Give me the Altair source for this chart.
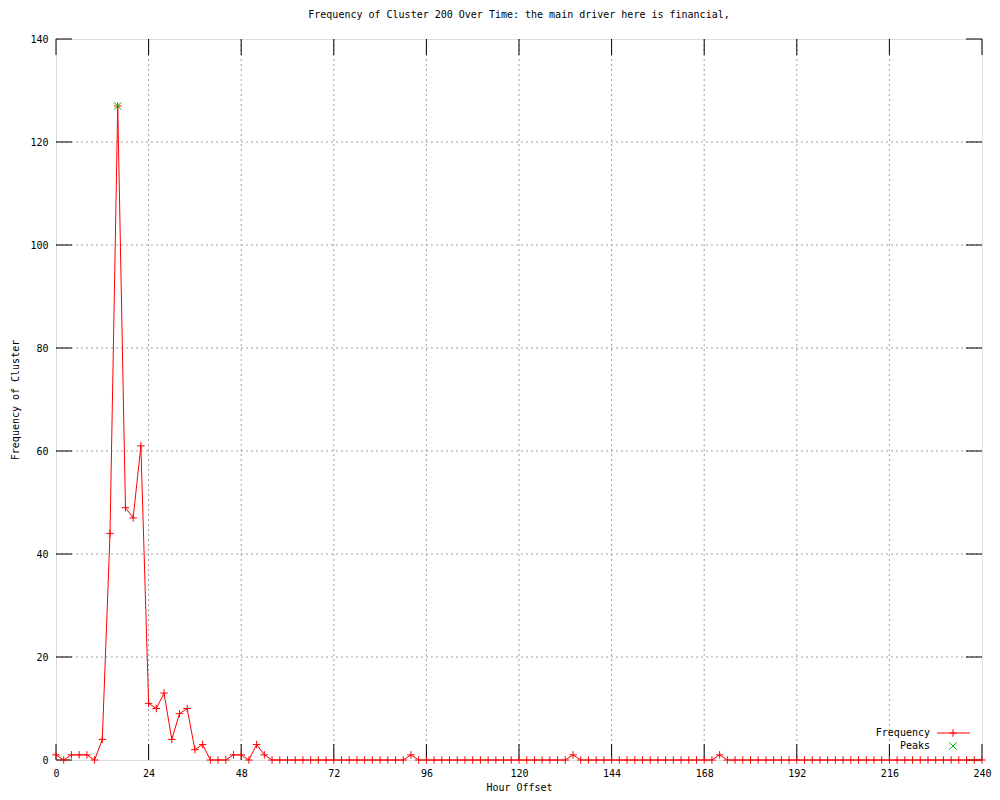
import altair as alt
import pandas as pd

hours = [0, 2, 4, 6, 8, 10, 12, 14, 16, 18, 20, 22, 24, 26, 28, 30, 32, 34, 36, 38,
         40, 42, 44, 46, 48, 50, 52, 54, 56, 58, 60, 62, 64, 66, 68, 70, 72, 74, 76, 78,
         80, 82, 84, 86, 88, 90, 92, 94, 96, 98, 100, 102, 104, 106, 108, 110, 112, 114, 116, 118,
         120, 122, 124, 126, 128, 130, 132, 134, 136, 138, 140, 142, 144, 146, 148, 150, 152, 154, 156, 158,
         160, 162, 164, 166, 168, 170, 172, 174, 176, 178, 180, 182, 184, 186, 188, 190, 192, 194, 196, 198,
         200, 202, 204, 206, 208, 210, 212, 214, 216, 218, 220, 222, 224, 226, 228, 230, 232, 234, 236, 238,
         240]
frequency = [1, 0, 1, 1, 1, 0, 4, 44, 127, 49, 47, 61, 11, 10, 13, 4, 9, 10, 2, 3,
             0, 0, 0, 1, 1, 0, 3, 1, 0, 0, 0, 0, 0, 0, 0, 0, 0, 0, 0, 0,
             0, 0, 0, 0, 0, 0, 1, 0, 0, 0, 0, 0, 0, 0, 0, 0, 0, 0, 0, 0,
             0, 0, 0, 0, 0, 0, 0, 1, 0, 0, 0, 0, 0, 0, 0, 0, 0, 0, 0, 0,
             0, 0, 0, 0, 0, 0, 1, 0, 0, 0, 0, 0, 0, 0, 0, 0, 0, 0, 0, 0,
             0, 0, 0, 0, 0, 0, 0, 0, 0, 0, 0, 0, 0, 0, 0, 0, 0, 0, 0, 0,
             0]
peak_hours = [16]
peak_values = [127]

x_ticks = [0, 24, 48, 72, 96, 120, 144, 168, 192, 216, 240]
y_ticks = [0, 20, 40, 60, 80, 100, 120, 140]
x_grid = [24, 48, 72, 96, 120, 144, 168, 192, 216]
y_grid = [20, 40, 60, 80, 100, 120]

title = "Frequency of Cluster 200 Over Time: the main driver here is financial,"
x_title = "Hour Offset"
y_title = "Frequency of Cluster"

FONT = "DejaVu Sans Mono"
W, H = 926, 721
TICK = 16
RED = "#ff0000"
GREEN = "#00c000"
PLUS = "M-1,0L1,0M0,-1L0,1"
CROSS = "M-1,-1L1,1M-1,1L1,-1"

df = pd.DataFrame({"hour": hours, "freq": frequency})
peaks = pd.DataFrame({"hour": peak_hours, "freq": peak_values})

xs = alt.Scale(domain=[0, 240], nice=False, zero=False)
ys = alt.Scale(domain=[0, 140], nice=False)

axis_font = dict(labelFont=FONT, labelFontSize=10, labelColor="black",
                 titleFont=FONT, titleFontSize=10, titleFontWeight="normal",
                 titleColor="black")
x_axis = alt.Axis(values=x_ticks, title=x_title, grid=False, ticks=False, domain=False,
                  labelPadding=8, titlePadding=4, labelFlush=False, **axis_font)
y_axis = alt.Axis(values=y_ticks, title=y_title, grid=False, ticks=False, domain=False,
                  labelPadding=8, titlePadding=9, **axis_font)

gx = pd.DataFrame({"v": x_grid})
gy = pd.DataFrame({"v": y_grid})
tx = pd.DataFrame({"v": x_ticks})
ty = pd.DataFrame({"v": y_ticks})

grid_style = dict(color="#a0a0a0", strokeWidth=1, strokeDash=[2, 3])

grid_x = alt.Chart(gx).mark_rule(**grid_style).encode(
    x=alt.X("v:Q", scale=xs, axis=x_axis), y=alt.value(0), y2=alt.value(H))
grid_y = alt.Chart(gy).mark_rule(**grid_style).encode(
    y=alt.Y("v:Q", scale=ys, axis=y_axis), x=alt.value(0), x2=alt.value(W))

tick_style = dict(color="black", strokeWidth=1)
ticks_bottom = alt.Chart(tx).mark_rule(**tick_style).encode(
    x=alt.X("v:Q", scale=xs), y=alt.value(H), y2=alt.value(H - TICK))
ticks_top = alt.Chart(tx).mark_rule(**tick_style).encode(
    x=alt.X("v:Q", scale=xs), y=alt.value(0), y2=alt.value(TICK))
ticks_left = alt.Chart(ty).mark_rule(**tick_style).encode(
    y=alt.Y("v:Q", scale=ys), x=alt.value(0), x2=alt.value(TICK))
ticks_right = alt.Chart(ty).mark_rule(**tick_style).encode(
    y=alt.Y("v:Q", scale=ys), x=alt.value(W), x2=alt.value(W - TICK))

line = alt.Chart(df).mark_line(color=RED, strokeWidth=1).encode(
    x=alt.X("hour:Q", scale=xs), y=alt.Y("freq:Q", scale=ys))
pts = alt.Chart(df).mark_point(shape=PLUS, size=56, filled=False, color=RED,
                               strokeWidth=1, opacity=1).encode(
    x=alt.X("hour:Q", scale=xs), y=alt.Y("freq:Q", scale=ys))
peak_pts = alt.Chart(peaks).mark_point(shape=CROSS, size=56, filled=False, color=GREEN,
                                       strokeWidth=1, opacity=1).encode(
    x=alt.X("hour:Q", scale=xs), y=alt.Y("freq:Q", scale=ys))

one = alt.Data(values=[{"k": 1}])
leg_text_style = dict(font=FONT, fontSize=10, align="right", baseline="middle", color="black")
leg_freq_text = alt.Chart(one).mark_text(text="Frequency", **leg_text_style).encode(
    x=alt.value(874), y=alt.value(694))
leg_peak_text = alt.Chart(one).mark_text(text="Peaks", **leg_text_style).encode(
    x=alt.value(874), y=alt.value(707))
leg_line = alt.Chart(one).mark_rule(color=RED, strokeWidth=1).encode(
    x=alt.value(881), x2=alt.value(914), y=alt.value(694))
leg_plus = alt.Chart(one).mark_point(shape=PLUS, size=56, filled=False, color=RED,
                                     strokeWidth=1, opacity=1).encode(
    x=alt.value(897), y=alt.value(694))
leg_cross = alt.Chart(one).mark_point(shape=CROSS, size=56, filled=False, color=GREEN,
                                      strokeWidth=1, opacity=1).encode(
    x=alt.value(897), y=alt.value(707))

chart = alt.layer(
    grid_x, grid_y, ticks_bottom, ticks_top, ticks_left, ticks_right,
    line, pts, peak_pts,
    leg_freq_text, leg_peak_text, leg_line, leg_plus, leg_cross,
).properties(
    width=W, height=H,
    title=alt.TitleParams(title, font=FONT, fontSize=10, fontWeight="normal",
                          anchor="middle", offset=14, color="black"),
    autosize=alt.AutoSizeParams(type="none"),
    padding={"left": 48, "top": 31, "right": 10, "bottom": 32},
).configure_view(
    stroke="black", strokeWidth=1
).configure(background="white")

chart.save("out.html", embed_options={"renderer": "svg", "actions": False})
